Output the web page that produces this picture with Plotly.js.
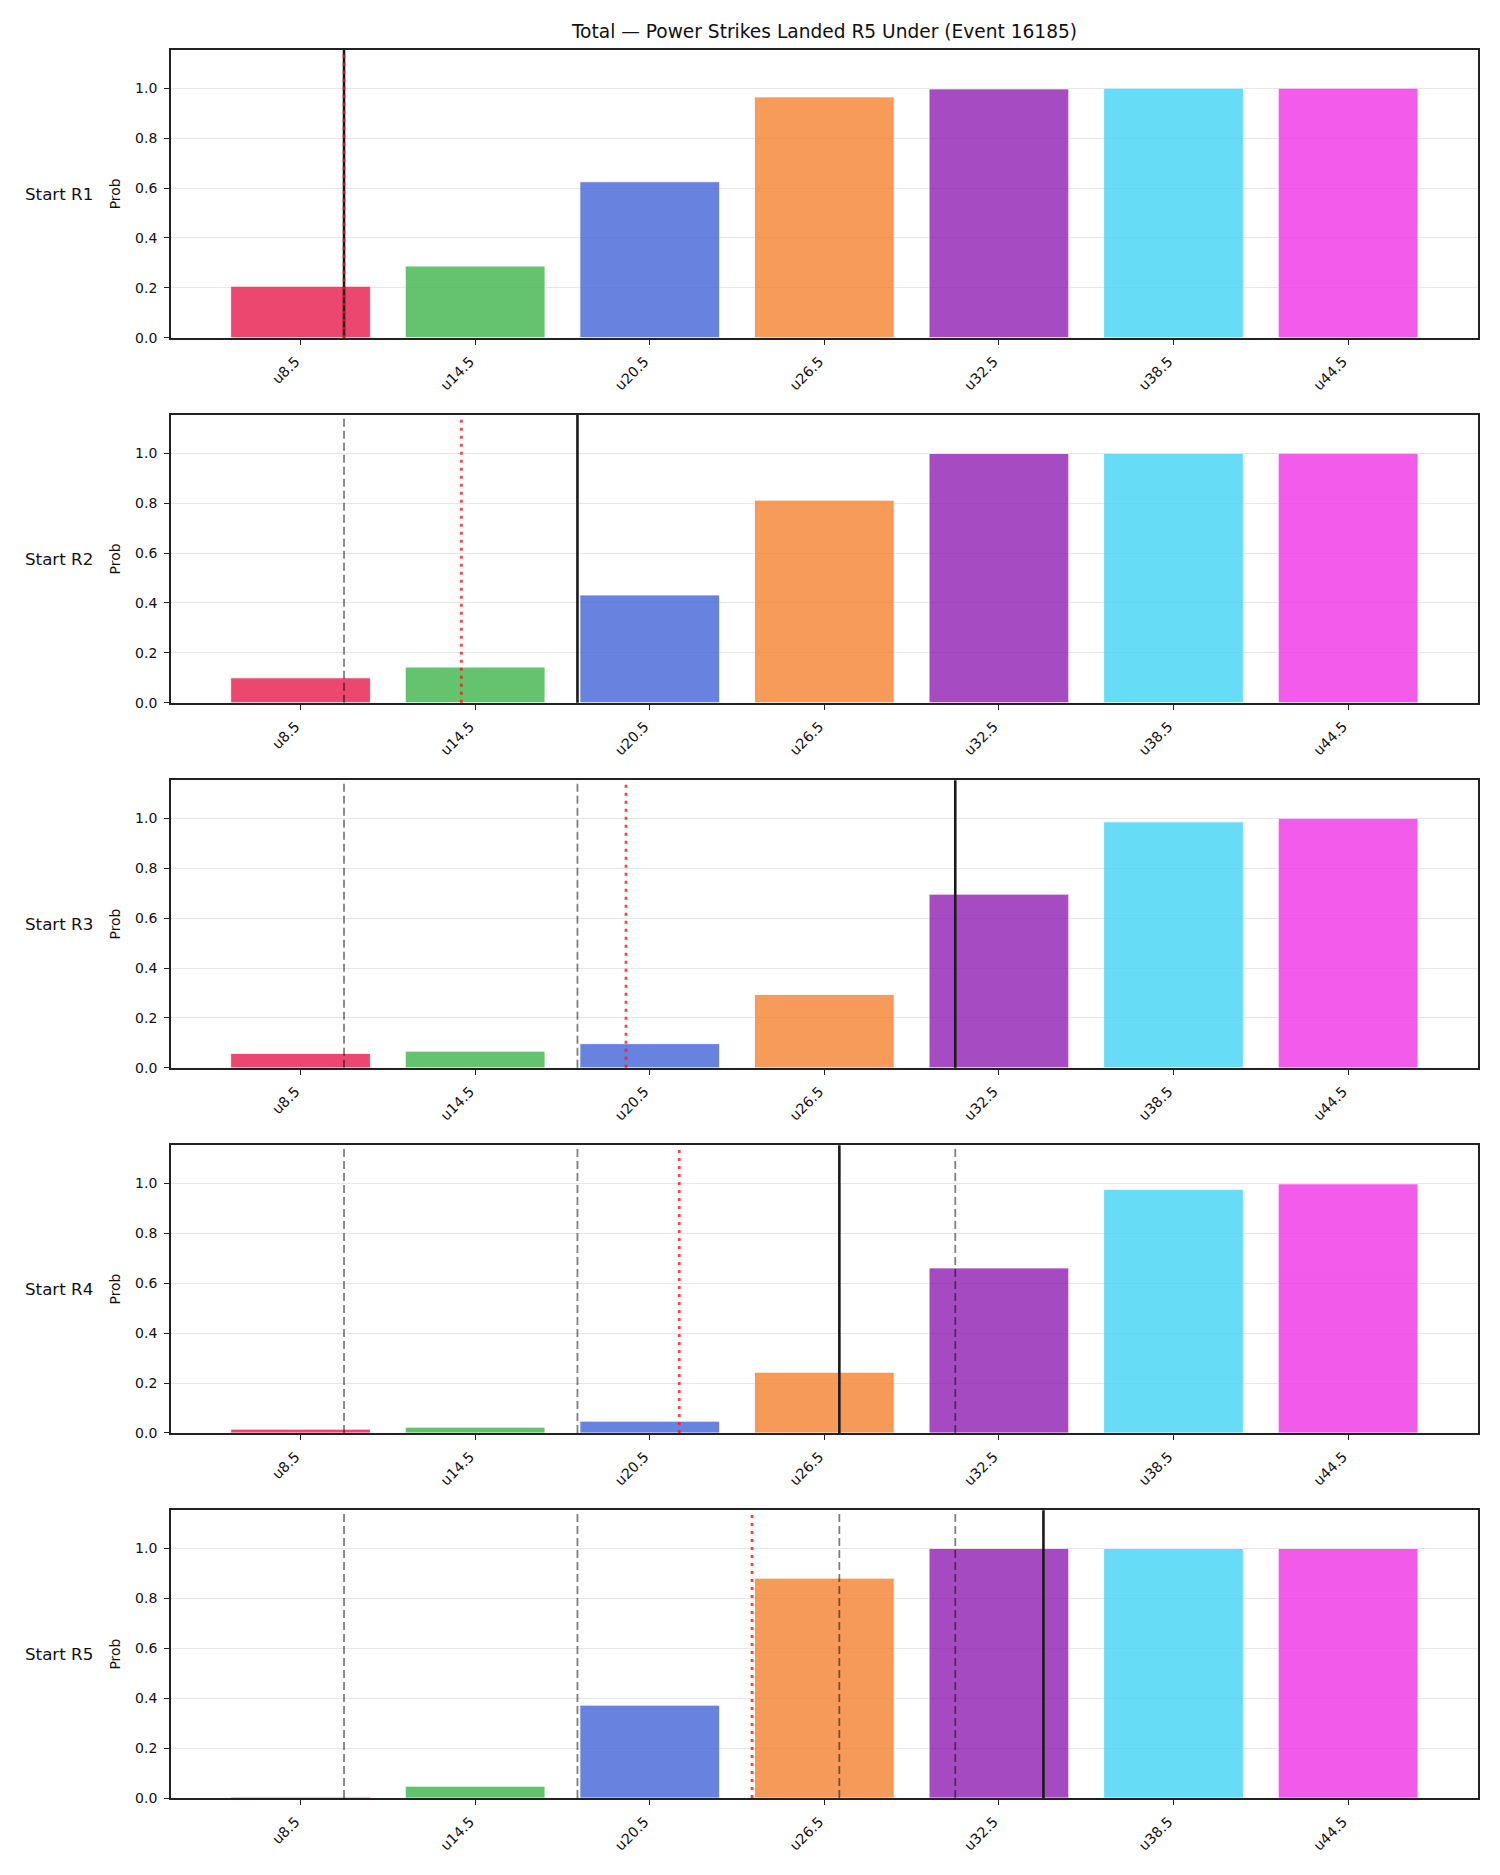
<!DOCTYPE html>
<html>
<head>
<meta charset="utf-8">
<script src="https://cdn.plot.ly/plotly-3.0.1.min.js"></script>
<style>
  html, body { margin: 0; padding: 0; background: #ffffff; }
  #chart { width: 1500px; height: 1875px; }
</style>
</head>
<body>
<div id="chart"></div>
<script>
// ---- Data ----
const chartTitle = "Total — Power Strikes Landed R5 Under (Event 16185)";
const categories = ["u8.5", "u14.5", "u20.5", "u26.5", "u32.5", "u38.5", "u44.5"];
const rowLabels = ["Start R1", "Start R2", "Start R3", "Start R4", "Start R5"];
const yAxisLabel = "Prob";

const probR1 = [0.206, 0.287, 0.625, 0.965, 0.997, 1.0, 1.0];
const probR2 = [0.100, 0.143, 0.432, 0.812, 0.999, 1.0, 1.0];
const probR3 = [0.058, 0.067, 0.097, 0.294, 0.696, 0.986, 1.0];
const probR4 = [0.015, 0.023, 0.047, 0.243, 0.661, 0.976, 0.998];
const probR5 = [0.004, 0.047, 0.372, 0.881, 1.0, 1.0, 1.0];
const probRows = [probR1, probR2, probR3, probR4, probR5];

// marker positions (in category-index units) per row
const currentLine = [0.249, 1.586, 3.750, 3.086, 4.255];   // solid black
const projectedLine = [0.249, 0.921, 1.864, 2.169, 2.586]; // red dotted

const barColors = ["#e6194b", "#3cb44b", "#4363d8", "#f58231", "#911eb4", "#42d4f4", "#f032e6"];

// ---- Geometry ----
const W = 1500, H = 1875;
const mL = 171, mR = 22, mT = 50, mB = 77.3;
const plotH = H - mT - mB;
const panelH = 287.7, panelStep = 365;
const font = "DejaVu Sans, Liberation Sans, sans-serif";

const data = [];
const shapes = [];
const annotations = [];
const layout = {
  width: W, height: H,
  margin: {l: mL, r: mR, t: mT, b: mB, pad: 0},
  paper_bgcolor: "#ffffff",
  plot_bgcolor: "#ffffff",
  showlegend: false,
  bargap: 0.2,
  font: {family: font, color: "#111111", size: 14},
  title: {
    text: chartTitle,
    font: {family: font, size: 18.6, color: "#111111"},
    x: (mL + (W - mL - mR) / 2) / W, xanchor: "center", xref: "container",
    y: 1 - 31 / H, yanchor: "middle", yref: "container"
  }
};

probRows.forEach((vals, i) => {
  const n = i + 1;
  const xa = "x" + (n === 1 ? "" : n);
  const ya = "y" + (n === 1 ? "" : n);
  const top = 1 - (i * panelStep) / plotH;
  const bottom = top - panelH / plotH;

  data.push({
    type: "bar",
    x: categories,
    y: vals,
    xaxis: xa, yaxis: ya,
    width: 0.8,
    marker: {color: barColors, opacity: 0.8, line: {color: "#ffffff", width: 0.8}},
    hoverinfo: "x+y"
  });

  const axKey = n === 1 ? "" : String(n);
  layout["xaxis" + axKey] = {
    domain: [0, 1],
    anchor: ya,
    type: "category",
    categoryorder: "array",
    categoryarray: categories,
    range: [-0.742, 6.744],
    showgrid: false,
    zeroline: false,
    showline: true, mirror: true, linecolor: "#222222", linewidth: 1.7,
    ticks: "outside", ticklen: 5, tickwidth: 1.4, tickcolor: "#222222",
    tickangle: -45,
    ticklabelshift: -5,
    ticklabelstandoff: 3,
    tickfont: {family: font, size: 14.2, color: "#111111"},
    fixedrange: true
  };
  layout["yaxis" + axKey] = {
    domain: [bottom, top],
    anchor: xa,
    range: [0, 1.153],
    tickvals: [0, 0.2, 0.4, 0.6, 0.8, 1.0],
    ticktext: ["0.0", "0.2", "0.4", "0.6", "0.8", "1.0"],
    showgrid: true, gridcolor: "#e6e6e6", gridwidth: 1,
    zeroline: false,
    showline: true, mirror: true, linecolor: "#222222", linewidth: 1.7,
    ticks: "outside", ticklen: 5, tickwidth: 1.4, tickcolor: "#222222",
    ticklabelstandoff: 4,
    tickfont: {family: font, size: 14, color: "#111111"},
    title: {text: yAxisLabel, font: {family: font, size: 13.9, color: "#111111"}, standoff: 11},
    fixedrange: true
  };

  // previous rounds' positions as grey dashed lines
  for (let k = 0; k < i; k++) {
    shapes.push({
      type: "line", xref: xa, yref: ya + " domain",
      x0: currentLine[k], x1: currentLine[k], y0: 0, y1: 1,
      line: {color: "rgba(0,0,0,0.5)", width: 1.8, dash: "8px,4px"},
      layer: "above"
    });
  }
  // current position: solid black
  shapes.push({
    type: "line", xref: xa, yref: ya + " domain",
    x0: currentLine[i], x1: currentLine[i], y0: 0, y1: 1,
    line: {color: "#1a1a1a", width: 2.6},
    layer: "above"
  });
  // projected: red dotted
  shapes.push({
    type: "line", xref: xa, yref: ya + " domain",
    x0: projectedLine[i], x1: projectedLine[i], y0: 0, y1: 0.985,
    line: {color: "rgba(255,20,20,0.8)", width: 2.8, dash: "3px,5px"},
    layer: "above"
  });

  annotations.push({
    text: rowLabels[i],
    xref: "paper", x: (23 - mL) / (W - mL - mR), xanchor: "left",
    yref: ya + " domain", y: 0.5, yanchor: "middle",
    showarrow: false,
    font: {family: font, size: 16.7, color: "#111111"}
  });
});

layout.shapes = shapes;
layout.annotations = annotations;

Plotly.newPlot("chart", data, layout, {displayModeBar: false, responsive: false});
</script>
</body>
</html>
